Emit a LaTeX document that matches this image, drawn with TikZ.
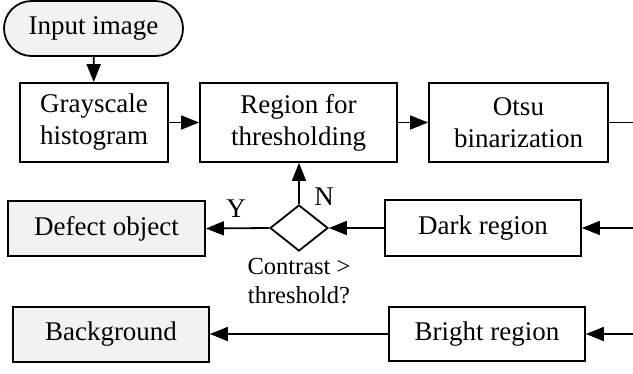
\documentclass[tikz,border=0pt]{standalone}
\usepackage{fontspec}
\setmainfont{Liberation Serif}
\usetikzlibrary{shapes.geometric,arrows.meta}
\definecolor{boxgray}{HTML}{F2F2F2}
\begin{document}
\begin{tikzpicture}[x=1pt,y=-1pt,
  every node/.style={font=\rmfamily\fontsize{27}{32}\selectfont, inner sep=0pt},
  box/.style={draw, line width=1.8pt, align=center, minimum height=79pt},
  obox/.style={draw, line width=1.8pt, minimum height=55pt},
  gbox/.style={obox, fill=boxgray},
  arr/.style={line width=1.8pt, -{Triangle[length=18pt,width=14pt]}},
  ln/.style={line width=1.8pt}]
\useasboundingbox (0,0) rectangle (633,373);
\node[draw, line width=1.8pt, fill=boxgray, rounded corners=27.5pt, minimum width=179pt, minimum height=55pt] (input) at (93.5,28.5) {Input image};
\node[box, minimum width=148pt] (gray) at (94,122.5) {Grayscale\\histogram};
\node[box, minimum width=197pt] (region) at (298.5,122.5) {Region for\\thresholding};
\node[box, minimum width=179pt] (otsu) at (518.5,122.5) {Otsu\\binarization};
\node[obox, minimum width=196pt, minimum height=56pt] (dark) at (483,228) {Dark region};
\node[draw, line width=1.8pt, diamond, minimum width=58pt, minimum height=46pt] (dec) at (299,228) {};
\node[gbox, minimum width=197pt] (defect) at (106.5,228.5) {Defect object};
\node[gbox, minimum width=196pt] (bg) at (111,334.5) {Background};
\node[obox, minimum width=196pt, minimum height=54pt] (bright) at (487,334) {Bright region};
\node[align=center, font=\rmfamily\fontsize{24.5}{29}\selectfont] (cond) at (299,281) {Contrast >\\threshold?};
\node (ylab) at (236,209) {Y};
\node (nlab) at (324,197) {N};
\coordinate (e1) at (633,122.5);
\coordinate (e2) at (633,228);
\coordinate (e3) at (633,334);
\draw[arr] (input) -- (gray);
\draw[arr] (gray) -- (region);
\draw[arr] (region) -- (otsu);
\draw[ln] (otsu.east) -- (e1);
\draw[arr] (e2) -- (dark.east);
\draw[arr] (dark.west) -- (dec.east);
\draw[arr] (dec.north) -- (dec.north |- region.south);
\draw[arr] (dec.west) -- (defect.east);
\draw[arr] (e3) -- (bright.east);
\draw[arr] (bright.west) -- (bright.west -| bg.east);
\end{tikzpicture}
\end{document}
